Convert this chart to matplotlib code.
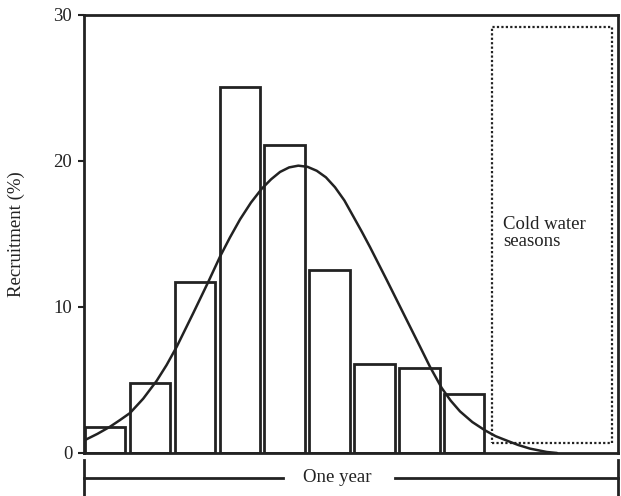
import matplotlib
matplotlib.use("Agg")
import matplotlib.pyplot as plt
from matplotlib.patches import Rectangle

plt.rcParams['font.family'] = ['Liberation Serif', 'DejaVu Serif']

# recruitment per period (%), nine bars
bar_pos = [0, 1, 2, 3, 4, 5, 6, 7, 8]
recruit = [1.8, 4.8, 11.7, 25.1, 21.1, 12.5, 6.1, 5.8, 4.05]

# fitted curve, points (x in bar units, y in %)
curve_x = [-0.445, -0.17, 0.111, 0.33, 0.557, 0.85, 1.151, 1.37, 1.597,
           1.966, 2.301, 2.561, 2.78, 3.007, 3.25, 3.49, 3.7, 3.898, 4.1,
           4.305, 4.51, 4.715, 4.92, 5.122, 5.33, 5.530, 5.72, 5.902, 6.274,
           6.644, 7.016, 7.238, 7.499, 7.7, 7.906, 8.18, 8.463, 8.7, 8.947,
           9.2, 9.465, 9.837, 10.067]
curve_y = [0.89, 1.31, 1.80, 2.25, 2.74, 3.72, 4.95, 6.02, 7.28,
           9.59, 11.73, 13.45, 14.75, 16.0, 17.15, 18.1, 18.75, 19.25, 19.56,
           19.68, 19.6, 19.33, 18.88, 18.2, 17.3, 16.2, 15.15, 14.1, 11.85,
           9.57, 7.28, 5.9, 4.45, 3.58, 2.85, 2.12, 1.55, 1.15, 0.85,
           0.55, 0.3, 0.07, 0.0]

# cold water season box (x range in bar units, y range in %)
cold_x = (8.62, 11.29)
cold_y = (0.66, 29.2)

col = '#222222'

fig = plt.figure(figsize=(6.21, 4.96), dpi=100)
ax = fig.add_axes([0.1353, 0.0867, 0.8599, 0.8831])

ax.bar(bar_pos, recruit, width=0.9, fill=False, edgecolor=col, linewidth=2)
ax.plot(curve_x, curve_y, color=col, linewidth=1.8, solid_capstyle='round',
        solid_joinstyle='round')

ax.add_patch(Rectangle((cold_x[0], cold_y[0]), cold_x[1] - cold_x[0],
                       cold_y[1] - cold_y[0], fill=False, edgecolor=col,
                       linewidth=1.6, linestyle=(0, (1, 1))))
ax.text(8.86, 16.2, 'Cold water\nseasons', ha='left', va='top',
        fontsize=13.5, color=col, linespacing=1.0)

ax.set_xlim(-0.468, 11.425)
ax.set_ylim(0, 30)
ax.set_yticks([0, 10, 20, 30])
ax.set_xticks([])
ax.tick_params(axis='y', length=4.5, width=1.5, pad=4, labelsize=13.5,
               colors=col)
for s in ax.spines.values():
    s.set_linewidth(2)
    s.set_color(col)

ax.set_ylabel('Recruitment (%)', fontsize=13.5, color=col)
ax.yaxis.set_label_coords(-0.110, 0.5)

# "One year" bracket under the axis
kw = dict(transform=ax.transAxes, clip_on=False, color=col, linewidth=2)
ax.plot([0, 0], [-0.016, -0.098], **kw)
ax.plot([1, 1], [-0.016, -0.098], **kw)
ax.plot([0, 0.372], [-0.0564, -0.0564], **kw)
ax.plot([0.582, 1], [-0.0564, -0.0564], **kw)
ax.text(0.474, -0.0564, 'One year', transform=ax.transAxes, ha='center',
        va='center', fontsize=13.5, color=col)

fig.savefig('out.png', dpi=100)
